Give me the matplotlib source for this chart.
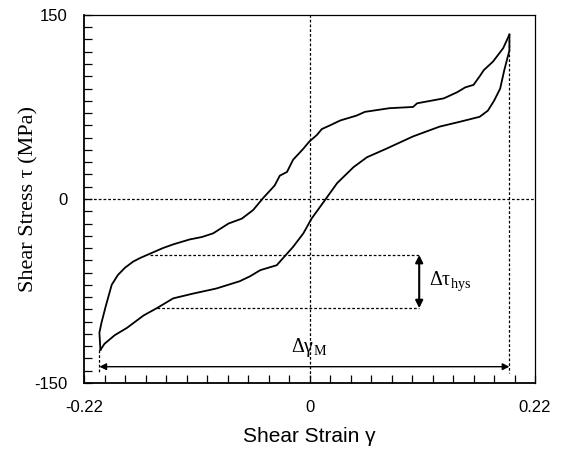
import matplotlib
matplotlib.use("Agg")
import matplotlib.pyplot as plt
import numpy as np

plt.rcParams['mathtext.fontset'] = 'custom'
plt.rcParams['mathtext.rm'] = 'Liberation Serif'
plt.rcParams['mathtext.it'] = 'Liberation Serif:italic'

# ---- data ----
upper_strain = [-0.204, -0.205, -0.203, -0.199, -0.193, -0.187, -0.180, -0.172, -0.165, -0.154,
                -0.143, -0.133, -0.117, -0.105, -0.094, -0.079, -0.066, -0.055, -0.045, -0.034,
                -0.029, -0.022, -0.016, -0.006, 0.000, 0.007, 0.012, 0.020, 0.030, 0.046,
                0.054, 0.078, 0.101, 0.105, 0.131, 0.144, 0.152, 0.160, 0.166, 0.170,
                0.179, 0.189, 0.195]
upper_stress = [-123, -109, -101, -88, -70, -62, -56, -51, -48, -44,
                -40, -37, -33, -31, -28, -20, -16, -9, 1, 11,
                19, 22, 32, 41, 47, 52, 57, 60, 64, 68,
                71, 74, 75, 78, 82, 87, 91, 93, 100, 105,
                112, 123, 134]
lower_strain = [0.195, 0.195, 0.190, 0.186, 0.180, 0.174, 0.166, 0.147, 0.127, 0.101,
                0.075, 0.056, 0.043, 0.027, 0.015, 0.002, -0.006, -0.016, -0.032, -0.048,
                -0.058, -0.068, -0.091, -0.113, -0.133, -0.149, -0.162, -0.178, -0.190, -0.200,
                -0.204]
lower_stress = [134, 121, 105, 90, 80, 72, 67, 63, 59, 51,
                41, 34, 26, 13, -1, -16, -28, -39, -54, -58,
                -63, -67, -73, -77, -81, -89, -95, -105, -111, -118,
                -123]

hys_levels = [-45.6, -89.0]          # stress levels bounding delta tau_hys
hys_x_start = [-0.156, -0.149]       # where the dashed lines start on the loop
hys_x_end = 0.107                    # strain position of the delta tau arrow
gamma_arrow_level = -136.7           # stress level of delta gamma_M arrow

x_ticklabels = ['-0.22', '0', '0.22']
y_ticklabels = ['-150', '0', '150']

# ---- figure ----
fig = plt.figure(figsize=(5.62, 4.53), dpi=100)
ax = fig.add_axes([0.1495, 0.1545, 0.8025, 0.8125])

ax.set_xlim(-0.22, 0.22)
ax.set_ylim(-150, 150)

dash = (0, (2.2, 1.6))
dkw = dict(color='black', lw=0.9, linestyle=dash, zorder=1)

# zero lines
ax.axhline(0, **dkw)
ax.axvline(0, **dkw)

# loop
ax.plot(upper_strain, upper_stress, color='black', lw=1.3, zorder=3,
        solid_joinstyle='round')
ax.plot(lower_strain, lower_stress, color='black', lw=1.3, zorder=3,
        solid_joinstyle='round')

gmax = max(upper_strain + lower_strain)
gmin = min(upper_strain + lower_strain)
tmax = max(upper_stress + lower_stress)
tmin = min(upper_stress + lower_stress)

# vertical dashed lines at strain extremes
ax.plot([gmax, gmax], [tmax, gamma_arrow_level - 5], **dkw)
ax.plot([gmin, gmin], [tmin, gamma_arrow_level - 5], **dkw)

# hysteresis dashed lines
for lv, xs in zip(hys_levels, hys_x_start):
    ax.plot([xs, hys_x_end], [lv, lv], **dkw)

# delta tau arrow
ax.annotate('', xy=(hys_x_end, hys_levels[0]), xytext=(hys_x_end, hys_levels[1]),
            arrowprops=dict(arrowstyle='<|-|>', color='black', lw=1.5,
                            mutation_scale=11, shrinkA=0, shrinkB=0))
ax.text(hys_x_end + 0.01, np.mean(hys_levels), r'$\mathrm{Δτ}_{\mathrm{hys}}$',
        fontsize=14.5, va='center', ha='left')

# delta gamma arrow
ax.annotate('', xy=(gmin, gamma_arrow_level), xytext=(gmax, gamma_arrow_level),
            arrowprops=dict(arrowstyle='<|-|>', color='black', lw=1.0,
                            mutation_scale=10, shrinkA=0, shrinkB=0))
ax.text(0, gamma_arrow_level + 6, r'$\mathrm{Δγ}_{\mathrm{M}}$',
        fontsize=14.5, va='bottom', ha='center')

# ticks
ax.set_xticks([-0.22, 0, 0.22])
ax.set_xticklabels(x_ticklabels)
ax.set_xticks(np.arange(-0.22, 0.2201, 0.02), minor=True)
ax.set_yticks([-150, 0, 150])
ax.set_yticklabels(y_ticklabels)
ax.set_yticks(np.arange(-150, 151, 10), minor=True)
ax.tick_params(which='both', direction='in', length=6, width=0.9,
               top=False, right=False)
ax.tick_params(which='major', labelsize=12, pad=12)
for lab in ax.get_xticklabels() + ax.get_yticklabels():
    lab.set_fontfamily('Liberation Sans')

for sp in ax.spines.values():
    sp.set_linewidth(0.9)
ax.spines['bottom'].set_linewidth(1.3)
ax.spines['left'].set_linewidth(1.3)

ax.set_xlabel('Shear Strain γ', fontsize=15, family='Liberation Sans', labelpad=9)
ax.set_ylabel('Shear Stress τ (MPa)', fontsize=16, family='Liberation Serif', labelpad=-3)

fig.savefig('out.png', dpi=100)
